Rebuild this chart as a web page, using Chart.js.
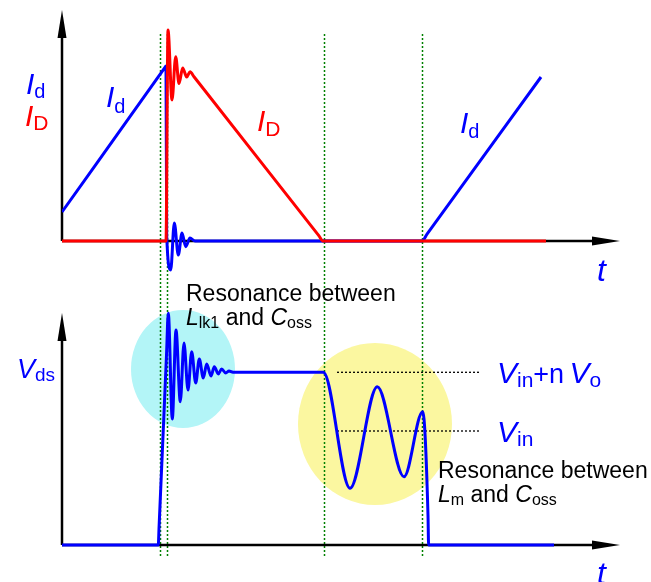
<!DOCTYPE html>
<html>
<head>
<meta charset="utf-8">
<script src="https://cdn.jsdelivr.net/npm/chart.js@4.4.1/dist/chart.umd.min.js"></script>
<style>
  html, body { margin: 0; padding: 0; background: #fff; }
  canvas { display: block; }
</style>
</head>
<body>
<canvas id="wave" width="651" height="582"></canvas>
<script>
// switching instants (arbitrary time units)
const switchTimes = [9.75, 10.45, 26.15, 36.0];

// clamp switch drain current I_d
const idTimes  = [0, 10.3, 10.4, 10.47, 10.87, 11.23, 11.63, 12.0, 12.37, 12.8, 13.3, 36.0, 36.5, 47.9];
const idValues = [2.9, 17.36, 17.5, 0.6, -2.9, 1.8, -1.4, 0.8, -0.57, 0.3, 0, 0, 0.69, 16.4];

// output diode current I_D
const diodeTimes  = [0, 10.4, 10.6, 11.0, 11.37, 11.7, 12.07, 12.47, 12.8, 13.2, 25.7, 26.1, 48.4];
const diodeValues = [0, 0, 21.1, 14.1, 18.43, 15.75, 17.3, 16.4, 16.93, 16.42, 0.51, 0, 0];

// drain-source voltage V_ds
const vdsTimes  = [0, 9.63, 9.7, 10.45, 10.63, 11.03, 11.4, 11.83, 12.2, 12.6, 12.97, 13.37, 13.73,
                   14.13, 14.47, 14.9, 15.23, 15.63, 15.97, 16.37, 16.7, 17.1, 26.13, 28.8, 31.53,
                   34.2, 36.07, 36.6, 36.66, 49.2];
const vdsValues = [0, 0, 1.62, 19.0, 23.17, 12.6, 21.5, 14.33, 20.2, 15.5, 19.33, 16.2, 18.6,
                   16.7, 18.1, 16.9, 17.83, 17.1, 17.6, 17.2, 17.4, 17.27, 17.27, 5.67, 15.83,
                   6.83, 13.33, 3.0, 0, 0];

// reference levels and where their guide lines run
const vinPlusNVo = 17.27;
const vin = 11.4;
const levelSpan = [27.5, 41.9];

const FONT = '"Liberation Sans", Arial, Helvetica, sans-serif';
const BLUE = '#0000ff';
const RED = '#ff0000';

const pts = (ts, vs) => ts.map((t, i) => ({ x: t, y: vs[i] }));

// shaded resonance regions, centre and radii in axis units
const highlights = [
  { x: 12.1, y: 17.6, rx: 5.2, ry: 5.9, color: '#b3f5f7' },
  { x: 31.3, y: 12.1, rx: 7.7, ry: 8.1, color: '#fbf7a0' }
];

function arrow(ctx, x0, y0, x1, y1) {
  const len = 28, half = 4.5;
  const ang = Math.atan2(y1 - y0, x1 - x0);
  const bx = x1 - len * Math.cos(ang), by = y1 - len * Math.sin(ang);
  ctx.beginPath();
  ctx.moveTo(x0, y0);
  ctx.lineTo(bx, by);
  ctx.stroke();
  ctx.beginPath();
  ctx.moveTo(x1, y1);
  ctx.lineTo(bx - half * Math.sin(ang), by + half * Math.cos(ang));
  ctx.lineTo(bx + half * Math.sin(ang), by - half * Math.cos(ang));
  ctx.closePath();
  ctx.fill();
}

// text made of runs: [text, size, italic, baseline shift]
function runs(ctx, x, y, color, parts) {
  ctx.fillStyle = color;
  ctx.textAlign = 'left';
  ctx.textBaseline = 'alphabetic';
  for (const [text, size, italic, dy] of parts) {
    ctx.font = (italic ? 'italic ' : '') + size + 'px ' + FONT;
    ctx.fillText(text, x, y + dy);
    x += ctx.measureText(text).width;
  }
}

const backdrop = {
  id: 'backdrop',
  beforeDatasetsDraw(chart) {
    const { ctx, scales: { x, yTop, yBot } } = chart;
    ctx.save();

    for (const h of highlights) {
      const cx = x.getPixelForValue(h.x), cy = yBot.getPixelForValue(h.y);
      const rx = x.getPixelForValue(h.x + h.rx) - cx;
      const ry = cy - yBot.getPixelForValue(h.y + h.ry);
      ctx.fillStyle = h.color;
      ctx.beginPath();
      ctx.ellipse(cx, cy, rx, ry, 0, 0, Math.PI * 2);
      ctx.fill();
    }

    // switching instants run through both panels
    ctx.strokeStyle = '#008000';
    ctx.lineWidth = 1.5;
    ctx.setLineDash([2, 2]);
    const top = yTop.getPixelForValue(20.7), bottom = yBot.getPixelForValue(-1.2);
    for (const t of switchTimes) {
      const px = Math.round(x.getPixelForValue(t)) + 0.5;
      ctx.beginPath();
      ctx.moveTo(px, top);
      ctx.lineTo(px, bottom);
      ctx.stroke();
    }
    ctx.setLineDash([]);

    // axes with arrow heads
    ctx.strokeStyle = '#000';
    ctx.fillStyle = '#000';
    ctx.lineWidth = 2.5;
    for (const [ys, tip] of [[yTop, 23.1], [yBot, 23.2]]) {
      const ox = x.getPixelForValue(0), oy = ys.getPixelForValue(0);
      arrow(ctx, ox, oy, x.getPixelForValue(55.8), oy);
      arrow(ctx, ox, oy, ox, ys.getPixelForValue(tip));
    }
    ctx.restore();
  },
  afterDraw(chart) {
    const ctx = chart.ctx;
    ctx.save();
    runs(ctx, 26, 94, BLUE, [['I', 30, true, 0], ['d', 20, false, 4]]);
    runs(ctx, 25, 126, RED, [['I', 30, true, 0], ['D', 21, false, 4]]);
    runs(ctx, 106, 107, BLUE, [['I', 30, true, 0], ['d', 20, false, 6]]);
    runs(ctx, 257, 131, RED, [['I', 30, true, 0], ['D', 21, false, 5]]);
    runs(ctx, 460, 133, BLUE, [['I', 30, true, 0], ['d', 20, false, 5]]);
    runs(ctx, 597, 281, BLUE, [['t', 32, true, 0]]);
    runs(ctx, 597, 584, BLUE, [['t', 32, true, 0]]);

    runs(ctx, 17, 378, BLUE, [['V', 27, true, 0], ['ds', 19, false, 3]]);
    runs(ctx, 497, 383, BLUE, [['V', 30, true, 0], ['in', 21, false, 4], ['+n', 27, false, 0],
                               ['\u2009', 27, false, 0], ['V', 30, true, 0], ['o', 21, false, 4]]);
    runs(ctx, 497, 442, BLUE, [['V', 30, true, 0], ['in', 21, false, 4]]);

    runs(ctx, 186, 301, '#000', [['Resonance between', 23, false, 0]]);
    runs(ctx, 186, 325, '#000', [['L', 23, true, 0], ['lk1', 16, false, 3], [' and ', 23, false, 0],
                                 ['C', 23, true, 0], ['oss', 16, false, 3]]);
    runs(ctx, 438, 478, '#000', [['Resonance between', 23, false, 0]]);
    runs(ctx, 438, 502, '#000', [['L', 23, true, 0], ['m', 16, false, 3], [' and ', 23, false, 0],
                                 ['C', 23, true, 0], ['oss', 16, false, 3]]);
    ctx.restore();
  }
};

const trace = (data, color, axis) => ({
  data, yAxisID: axis,
  borderColor: color, borderWidth: 3,
  pointRadius: 0, fill: false,
  cubicInterpolationMode: 'monotone'
});

const level = (value) => ({
  data: levelSpan.map(t => ({ x: t, y: value })),
  yAxisID: 'yBot',
  borderColor: '#000', borderWidth: 1.3, borderDash: [2, 2],
  pointRadius: 0, fill: false
});

new Chart(document.getElementById('wave'), {
  type: 'line',
  data: {
    datasets: [
      trace(pts(diodeTimes, diodeValues), RED, 'yTop'),
      trace(pts(idTimes, idValues), BLUE, 'yTop'),
      trace(pts(vdsTimes, vdsValues), BLUE, 'yBot'),
      level(vinPlusNVo),
      level(vin)
    ]
  },
  options: {
    responsive: false,
    animation: false,
    layout: { padding: { left: 62, right: 29, top: 0, bottom: 0 } },
    plugins: { legend: { display: false }, tooltip: { enabled: false } },
    scales: {
      x: { type: 'linear', min: 0, max: 56, display: false },
      // both panels share the canvas; each y scale is ranged so its panel sits in its own band
      yTop: { type: 'linear', min: -34.1, max: 24.1, display: false },
      yBot: { type: 'linear', min: -3.7, max: 54.5, display: false }
    }
  },
  plugins: [backdrop]
});
</script>
</body>
</html>
